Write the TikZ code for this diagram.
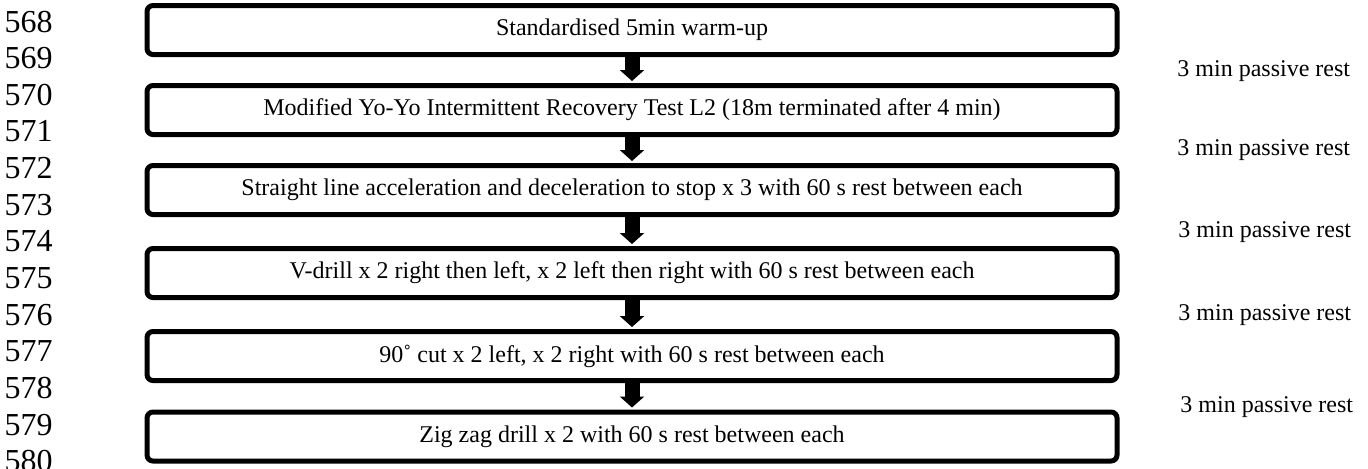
\documentclass[tikz,border=0pt]{standalone}
\usepackage{fontspec}
\setmainfont{Liberation Serif}
\usetikzlibrary{arrows.meta}

\tikzset{
  stage/.style={draw, line width=2.5pt, rounded corners=3pt, minimum width=485pt,
    minimum height=24.5pt, inner sep=0pt, font=\fontsize{12}{14}\selectfont},
  flow/.style={line width=7.5pt, shorten >=1pt, -{Triangle[width=12pt,length=5.5pt]}},
  rest/.style={anchor=base west, inner sep=0pt, font=\fontsize{12}{14}\selectfont},
  lineno/.style={anchor=base east, inner sep=0pt, font=\fontsize{16}{18}\selectfont}
}

\begin{document}
\begin{tikzpicture}[x=0.5pt,y=-0.5pt]
  \clip (0,0) rectangle (1368,468);
  % line numbers
  \foreach \n [count=\i from 0] in {568,...,580}
    \node[lineno] (l\n) at (53,{32+\i*36.65}) {\n};
  % stages
  \node[stage] (W) at (632,30) {Standardised 5min warm-up};
  \node[stage] (Y) at (632,110) {Modified Yo-Yo Intermittent Recovery Test L2 (18m terminated after 4 min)};
  \node[stage] (S) at (632,190) {Straight line acceleration and deceleration to stop x 3 with 60 s rest between each};
  \node[stage] (V) at (632,273) {V-drill x 2 right then left, x 2 left then right with 60 s rest between each};
  \node[stage] (C) at (632,356) {90˚ cut x 2 left, x 2 right with 60 s rest between each};
  \node[stage] (Z) at (632,436.5) {Zig zag drill x 2 with 60 s rest between each};
  \draw[flow] (W) -- (Y);
  \draw[flow] (Y) -- (S);
  \draw[flow] (S) -- (V);
  \draw[flow] (V) -- (C);
  \draw[flow] (C) -- (Z);
  % rests
  \node[rest] (R1) at (1177,76) {3 min passive rest};
  \node[rest] (R2) at (1177,155) {3 min passive rest};
  \node[rest] (R3) at (1178,237) {3 min passive rest};
  \node[rest] (R4) at (1178,320) {3 min passive rest};
  \node[rest] (R5) at (1180,412) {3 min passive rest};
\end{tikzpicture}
\end{document}
